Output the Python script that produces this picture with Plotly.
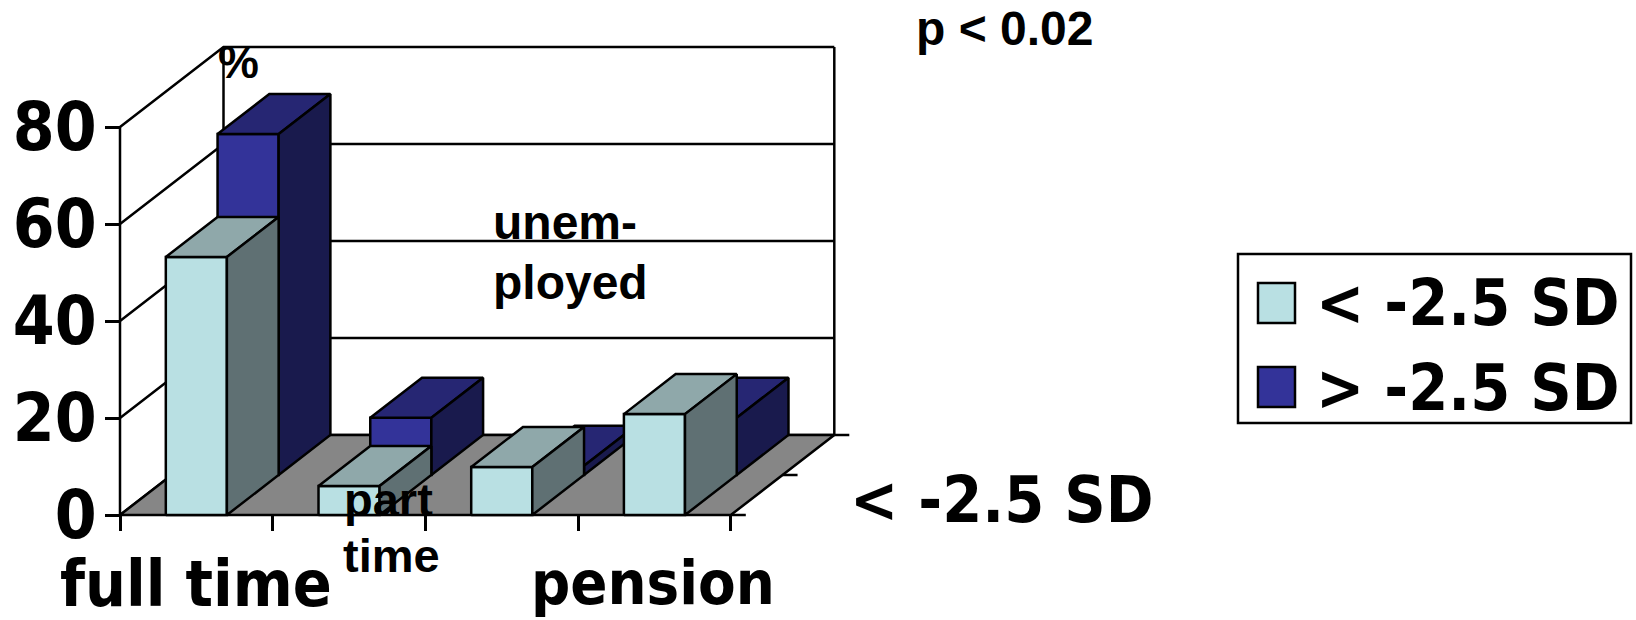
import plotly.graph_objects as go

categories = ["full time", "part time", "unemployed", "pension"]
low_sd = [53.2, 6.0, 9.9, 20.8]
high_sd = [70.3, 11.8, 1.9, 11.8]
y_ticks = [0, 20, 40, 60, 80]
x_ticks = [0, 1, 2, 3, 4]

W, H = 1636, 620
OX, OY = 120.0, 515.0      # front-left floor corner in figure pixels
UX, UY = 152.7, 4.85       # pixels per category / per percent
DX, DY = 103.5 / UX, 80.0 / UY   # oblique offset of full depth, in axis units
BAR_L, BAR_W = 0.30, 0.40
INK = "#000000"
LW = 2.5
BOLD = "DejaVu Sans Condensed, DejaVu Sans, sans-serif"
ARIAL = "Liberation Sans, Arial, sans-serif"

def P(cat, val, depth):
    return cat + depth * DX, val + depth * DY

def face(pts, fill):
    xs, ys = zip(*pts)
    return go.Scatter(x=list(xs) + [xs[0]], y=list(ys) + [ys[0]], mode="lines",
                      fill="toself", fillcolor=fill,
                      line=dict(color=INK, width=LW), hoverinfo="skip", showlegend=False)

def line(pts, width=LW):
    xs, ys = zip(*pts)
    return go.Scatter(x=list(xs), y=list(ys), mode="lines",
                      line=dict(color=INK, width=width), hoverinfo="skip", showlegend=False)

def bar(i, v, d0, d1, front, top, side):
    l, r = i + BAR_L, i + BAR_L + BAR_W
    return [
        face([P(l, 0, d0), P(r, 0, d0), P(r, v, d0), P(l, v, d0)], front),
        face([P(l, v, d0), P(r, v, d0), P(r, v, d1), P(l, v, d1)], top),
        face([P(r, 0, d0), P(r, 0, d1), P(r, v, d1), P(r, v, d0)], side),
    ]

n = len(categories)
top_v = y_ticks[-1]
traces = []

# walls: gridlines on left and back walls
for t in y_ticks:
    traces.append(line([P(0, t, 0), P(0, t, 1), P(n, t, 1)]))
traces.append(line([P(0, 0, 0), P(0, top_v, 0)]))
traces.append(line([P(0, 0, 1), P(0, top_v, 1)]))
traces.append(line([P(n, 0, 1), P(n, top_v, 1)]))

# floor
traces.append(face([P(0, 0, 0), P(n, 0, 0), P(n, 0, 1), P(0, 0, 1)], "#868686"))

# depth ticks on the right edge
for d in (0, 0.5, 1):
    x0, y0 = P(n, 0, d)
    traces.append(line([(x0, y0), (x0 + 15 / UX, y0)]))

# back row, then front row
for i, v in enumerate(high_sd):
    traces += bar(i, v, 0.5, 1.0, "#333399", "#262673", "#191A4D")
for i, v in enumerate(low_sd):
    traces += bar(i, v, 0.0, 0.5, "#B9E0E3", "#8FA8AA", "#5F7073")

fig = go.Figure(traces)

def label(text, px, py, size, family=BOLD, xanchor="center"):
    fig.add_annotation(text=text, x=px / W, y=1 - py / H,
                       xref="paper", yref="paper",
                       showarrow=False, xanchor=xanchor, yanchor="middle",
                       font=dict(family=family, size=size, color=INK), borderpad=0)

B = lambda s: f"<b>{s}</b>"
label(B("full time"), 196, 584, 64)
label(B("pension"), 653, 582, 61)
label(B("part"), 388, 499, 47, ARIAL)
label(B("time"), 391, 555, 47, ARIAL)
label(B("unem-"), 492, 223, 48, ARIAL, "left")
label(B("ployed"), 492, 282, 48, ARIAL, "left")
label(B("%"), 238, 62, 46, ARIAL)
label(B("p &lt; 0.02"), 1004, 28, 48, ARIAL)
label(B("&lt; -2.5 SD"), 1002, 500, 64)
label(B("&lt; -2.5 SD"), 1468, 303, 64)
label(B("&gt; -2.5 SD"), 1468, 388, 64)

def rect(x0, y0, x1, y1, fill):
    fig.add_shape(type="rect", xref="paper", yref="paper",
                  x0=x0 / W, x1=x1 / W, y0=1 - y0 / H, y1=1 - y1 / H,
                  fillcolor=fill, line=dict(color=INK, width=2.5))

rect(1238, 254, 1631, 423, "rgba(255,255,255,0)")
rect(1258, 283, 1295, 323, "#B9E0E3")
rect(1258, 367, 1295, 407, "#333399")

fig.update_layout(
    width=W, height=H, margin=dict(l=0, r=0, t=0, b=0, autoexpand=False),
    paper_bgcolor="white", plot_bgcolor="white", showlegend=False,
    xaxis=dict(range=[-OX / UX, (W - OX) / UX], anchor="free", position=(H - OY) / H,
               tickvals=x_ticks, ticktext=[""] * len(x_ticks), ticks="outside",
               ticklen=15, tickwidth=LW, tickcolor=INK, showgrid=False, zeroline=False,
               showline=False, automargin=False),
    yaxis=dict(range=[-(H - OY) / UY, OY / UY], anchor="free", position=OX / W,
               tickvals=y_ticks, ticks="outside", ticklen=15, tickwidth=LW, tickcolor=INK,
               tickfont=dict(family=BOLD, size=67, color=INK, weight="bold"),
               ticklabelstandoff=-5, showgrid=False, zeroline=False, showline=False,
               automargin=False),
)
fig.write_html("out.html", config={"displayModeBar": False},
               post_script="document.body.style.margin='0';document.documentElement.style.overflow='hidden';")
